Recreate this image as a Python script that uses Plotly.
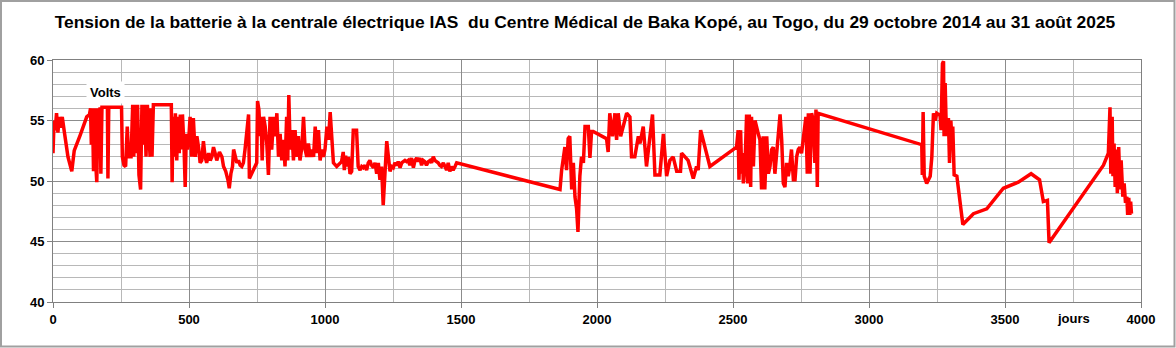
import plotly.graph_objects as go

# Days since 29 Oct 2014
days = [
    0, 4, 8, 13, 18, 23, 28, 34, 42, 55, 69, 78, 100, 124, 134, 138,
    141, 145, 149, 153, 157, 161, 165, 169, 173, 176, 180, 200, 202, 205, 252,
    255, 261, 267, 273, 278, 287, 293, 297, 302, 307, 311, 316, 322, 327, 332, 337, 342, 347, 352, 357, 360, 364, 369, 435, 438,
    441, 445, 450, 455, 459, 464, 468, 471, 476, 482, 486, 490, 494, 499, 504, 510, 516, 523, 529, 535, 541, 547, 553, 559,
    565, 572, 578, 584, 590, 596, 602, 612, 621, 627, 635, 643, 648, 654, 660, 664, 670, 676, 682, 688, 694, 700, 706, 712,
    719, 722, 731, 741, 749, 752, 757, 762, 765, 769, 774, 780, 786, 792, 798, 804, 811, 817, 823, 829, 835, 841, 847, 853,
    859, 863, 867, 872, 878, 884, 890, 896, 902, 908, 915, 921, 927, 933, 939, 945, 951, 958, 964, 970, 976, 982, 988, 994,
    1000, 1007, 1013, 1019, 1025, 1031, 1043, 1055, 1061, 1067, 1071, 1076, 1080, 1086, 1092, 1098, 1104, 1116, 1122, 1129,
    1135, 1141, 1147, 1153, 1159, 1165, 1171, 1178, 1184, 1190, 1196, 1202, 1208, 1214, 1221, 1227, 1233, 1239, 1245, 1251,
    1257, 1263, 1269, 1276, 1282, 1288, 1294, 1300, 1306, 1312, 1318, 1325, 1331, 1337, 1343, 1349, 1355, 1361, 1367, 1373,
    1380, 1386, 1392, 1398, 1404, 1410, 1416, 1422, 1428, 1435, 1441, 1447, 1453, 1459, 1465, 1471, 1478, 1484,
    1864, 1870, 1882, 1888, 1894, 1900, 1907, 1913, 1919, 1925, 1930, 1937, 1943, 1950, 1956, 1968, 1974, 1980, 1986,
    2035, 2041, 2047, 2057, 2066, 2072, 2078, 2087, 2109, 2121, 2127, 2139, 2152, 2158, 2170, 2182, 2195, 2204, 2213,
    2231, 2244, 2256, 2268, 2280, 2293, 2307, 2311, 2335, 2354, 2366, 2372, 2381, 2415, 2513,
    2519, 2522, 2528, 2532, 2535, 2538, 2544, 2550, 2554, 2560, 2565, 2568, 2575, 2581, 2593, 2599, 2605, 2611, 2617,
    2624, 2630, 2636, 2642, 2648, 2654, 2660, 2673, 2679, 2685, 2691, 2697, 2703, 2709, 2715, 2722, 2728, 2734, 2740,
    2746, 2752, 2758, 2764, 2768, 2773, 2777, 2783, 2789, 2795, 2801, 2805, 2810, 2813,
    3194, 3196, 3199, 3203, 3212, 3225, 3231, 3237, 3243, 3249, 3255, 3261, 3265, 3270, 3274, 3276, 3280, 3283, 3288,
    3292, 3296, 3301, 3304, 3308, 3313, 3323, 3345, 3384, 3433, 3494, 3549, 3596, 3627, 3641, 3656, 3662,
    3862, 3880, 3886, 3889, 3894, 3897, 3901, 3905, 3909, 3913, 3918, 3923, 3927, 3931, 3933, 3938, 3943, 3948, 3951,
    3955, 3959, 3962, 3965,
]

volts = [
    52.3, 55.0, 54.2, 55.6, 54.0, 55.3, 54.4, 55.3, 54.0, 52.0, 50.8, 52.5, 53.8, 55.3, 55.5, 56.0,
    53.0, 56.0, 50.8, 56.0, 51.5, 49.9, 56.0, 53.0, 56.1, 50.6, 56.1, 56.1, 50.2, 56.1, 56.1,
    52.0, 51.3, 51.2, 54.5, 52.0, 52.0, 56.3, 52.0, 56.3, 52.3, 56.3, 50.5, 49.3, 56.3, 53.0, 56.3, 52.0, 56.3, 54.5, 52.0, 56.0, 52.0, 56.3, 56.3, 49.9,
    55.3, 52.0, 55.6, 51.7, 55.3, 52.3, 55.5, 52.6, 55.5, 52.6, 49.5, 53.9, 52.6, 53.4, 55.3, 52.0, 55.2, 52.0, 53.7, 52.8, 51.5, 51.7, 53.3, 52.0,
    51.5, 52.3, 51.7, 52.0, 52.8, 52.3, 51.7, 52.4, 52.0, 51.2, 50.8, 50.1, 49.4, 50.6, 51.2, 52.6, 52.0, 51.5, 51.7, 51.3, 51.2, 51.5, 52.6, 54.2,
    55.5, 50.2, 50.6, 51.2, 51.5, 56.6, 55.9, 53.7, 55.3, 51.7, 55.3, 54.5, 53.1, 50.5, 55.3, 52.6, 55.3, 53.7, 55.6, 52.0, 53.9, 51.7, 53.4, 51.2,
    55.3, 51.7, 57.1, 52.6, 54.2, 51.7, 54.2, 52.0, 53.7, 51.7, 52.8, 55.3, 52.6, 52.0, 53.1, 52.0, 52.6, 52.0, 54.5, 52.3, 54.2, 51.7, 52.6, 52.0,
    52.6, 54.5, 53.4, 55.7, 53.9, 51.5, 51.2, 51.5, 51.6, 52.4, 50.9, 52.1, 51.2, 52.0, 50.6, 50.8, 54.2, 54.2, 51.2, 50.9,
    51.2, 51.1, 51.3, 50.9, 51.5, 51.7, 51.3, 51.1, 51.5, 50.6, 51.5, 50.1, 51.2, 48.0, 50.9, 53.3, 52.0, 50.8, 51.2, 51.1,
    51.5, 51.3, 51.6, 51.1, 51.5, 51.6, 51.7, 51.6, 51.7, 51.3, 51.9, 51.1, 51.7, 51.9, 51.6, 51.9, 51.3, 51.7, 51.6, 51.3,
    51.6, 51.7, 51.5, 52.0, 51.7, 51.6, 51.5, 51.3, 51.2, 51.5, 51.1, 50.9, 51.5, 50.8, 51.2, 50.9, 51.2, 51.5,
    49.3, 50.9, 52.8, 50.9, 53.5, 53.7, 49.3, 51.5, 48.7, 47.7, 45.8, 50.4, 52.0, 51.5, 54.5, 54.5, 51.9, 54.1, 54.1,
    53.5, 52.4, 55.6, 53.7, 55.6, 53.4, 55.6, 53.7, 55.6, 55.3, 52.0, 52.0, 53.7, 53.1, 54.5, 51.2, 53.9, 55.5, 50.5,
    50.5, 53.9, 50.4, 51.7, 52.0, 50.8, 50.8, 52.3, 51.7, 50.2, 51.2, 50.9, 54.2, 51.2, 52.8,
    54.2, 50.1, 54.2, 50.6, 52.3, 49.8, 51.2, 55.5, 49.8, 55.5, 49.5, 55.3, 51.2, 55.0, 53.9, 53.4, 49.3, 53.7, 49.3,
    53.7, 50.6, 51.2, 52.6, 52.8, 50.6, 52.0, 55.5, 53.4, 49.8, 49.5, 51.5, 50.4, 51.2, 52.6, 50.1, 50.1, 52.0, 52.6,
    52.8, 52.3, 53.4, 54.2, 55.3, 50.6, 55.6, 50.6, 55.6, 55.0, 51.5, 55.9, 49.5, 55.6,
    53.0, 50.5, 55.7, 50.4, 49.8, 50.4, 52.0, 55.6, 55.0, 55.6, 55.5, 55.5, 54.2, 59.7, 59.9, 53.7, 58.1, 55.3, 53.7,
    55.2, 51.5, 55.0, 53.7, 54.5, 50.5, 50.4, 46.4, 47.3, 47.7, 49.4, 49.9, 50.6, 50.1, 48.3, 48.4, 44.9,
    51.3, 52.3, 56.1, 50.6, 55.3, 50.4, 53.1, 49.5, 52.6, 49.0, 52.8, 49.3, 51.7, 49.8, 48.7, 49.8, 48.2, 48.7, 47.2,
    48.6, 47.2, 48.3, 47.3,
]

x_ticks = [0, 500, 1000, 1500, 2000, 2500, 3000, 3500, 4000]
y_ticks = [40, 45, 50, 55, 60]

title_text = ("Tension de la batterie à la centrale électrique IAS\u00a0 du Centre Médical de Baka Kopé, "
              "au Togo, du 29 octobre 2014 au 31 août 2025")

W, H = 1176, 348
ML, MR, MT, MB = 53, 35, 60, 46
PW, PH = W - ML - MR, H - MT - MB

FONT = "Liberation Sans, Arial, sans-serif"

fig = go.Figure()
fig.add_trace(go.Scatter(
    x=days, y=volts, mode="lines",
    line=dict(color="#ff0000", width=3.5),
    showlegend=False, hoverinfo="skip",
))

axis_common = dict(
    showline=True, linecolor="#808080", linewidth=1, mirror=True,
    ticks="outside", ticklen=5, tickcolor="#808080",
    tickfont=dict(family=FONT, size=13, color="#000000", weight="bold"),
    zeroline=False, showgrid=True, gridcolor="#8c8c8c", gridwidth=1,
)

fig.update_layout(
    width=W, height=H,
    margin=dict(l=ML, r=MR, t=MT, b=MB),
    paper_bgcolor="#ffffff", plot_bgcolor="#ffffff",
    title=dict(
        text=title_text, xref="container", x=(585 / W), xanchor="center",
        yref="container", y=1 - 22 / H, yanchor="middle",
        font=dict(family=FONT, size=17.4, color="#000000", weight="bold"),
    ),
    xaxis=dict(
        range=[0, 4000], tickmode="array", tickvals=x_ticks,
        ticktext=[str(v) for v in x_ticks],
        minor=dict(dtick=250, showgrid=True, gridcolor="#b8b8b8", ticks=""),
        **axis_common,
    ),
    yaxis=dict(
        range=[40, 60], tickmode="array", tickvals=y_ticks,
        ticktext=[str(v) for v in y_ticks],
        minor=dict(dtick=1, showgrid=True, gridcolor="#b8b8b8", ticks=""),
        **axis_common,
    ),
    annotations=[
        dict(text="Volts", xref="paper", yref="paper",
             x=(105 - ML) / PW, y=(MT + PH - 92) / PH,
             xanchor="center", yanchor="middle",
             showarrow=False, bgcolor="#ffffff", borderpad=3,
             font=dict(family=FONT, size=13, color="#000000", weight="bold")),
        dict(text="jours", xref="paper", yref="paper",
             x=(1073 - ML) / PW, y=(MT + PH - 318) / PH,
             xanchor="center", yanchor="middle",
             showarrow=False,
             font=dict(family=FONT, size=13, color="#000000", weight="bold")),
    ],
    shapes=[
        dict(type="rect", xref="paper", yref="paper",
             x0=(1 - ML) / PW, x1=(W - 1.5 - ML) / PW,
             y0=(MT + PH - (H - 1.5)) / PH, y1=(MT + PH - 1) / PH,
             line=dict(color="#a0a0a0", width=2), fillcolor="rgba(0,0,0,0)",
             layer="above"),
    ],
)

fig.write_html("out.html", config={"displayModeBar": False},
               post_script="document.body.style.margin='0';")
